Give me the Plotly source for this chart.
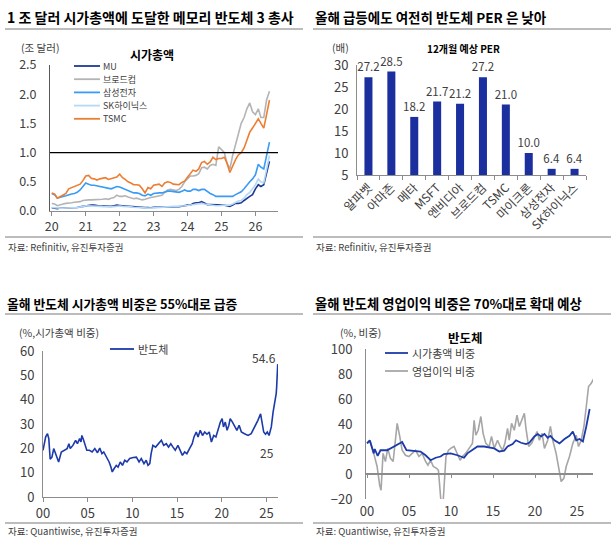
import plotly.graph_objects as go
import pandas as pd

W, H = 615, 543
FONT = "Noto Sans CJK KR"
TXT = "#404040"
AX = "#8c8c8c"

# ---------------- Panel 1 : market cap (trillion USD), monthly 2020-01 .. 2026-06
months = pd.date_range("2020-01-01", "2026-06-01", freq="MS")
mu = [0.055, 0.05, 0.04, 0.05, 0.05, 0.055, 0.06, 0.06, 0.055, 0.06, 0.07, 0.08,
      0.09, 0.10, 0.10, 0.10, 0.09, 0.085, 0.085, 0.08, 0.08, 0.08, 0.09, 0.10,
      0.095, 0.09, 0.085, 0.08, 0.075, 0.065, 0.065, 0.065, 0.057, 0.057, 0.06, 0.055,
      0.065, 0.065, 0.065, 0.07, 0.07, 0.075, 0.075, 0.07, 0.075, 0.075, 0.08, 0.095,
      0.10, 0.10, 0.13, 0.14, 0.14, 0.16, 0.13, 0.11, 0.11, 0.11, 0.11, 0.10,
      0.11, 0.10, 0.09, 0.08, 0.10, 0.13, 0.13, 0.14, 0.18, 0.22, 0.25, 0.28,
      0.38, 0.45, 0.42, 0.45, 0.65, 0.85]
broadcom = [0.13, 0.12, 0.09, 0.11, 0.12, 0.13, 0.13, 0.14, 0.15, 0.15, 0.16, 0.18,
            0.19, 0.19, 0.19, 0.19, 0.19, 0.20, 0.20, 0.21, 0.20, 0.22, 0.23, 0.27,
            0.25, 0.25, 0.26, 0.24, 0.23, 0.21, 0.22, 0.21, 0.19, 0.20, 0.22, 0.23,
            0.24, 0.25, 0.26, 0.27, 0.32, 0.36, 0.37, 0.36, 0.35, 0.37, 0.42, 0.50,
            0.55, 0.60, 0.60, 0.61, 0.64, 0.74, 0.75, 0.72, 0.78, 0.80, 0.78, 1.10,
            1.05, 1.00, 0.82, 0.72, 0.95, 1.15, 1.35, 1.50, 1.60, 1.75, 1.85, 1.70,
            1.65, 1.75, 1.60, 1.60, 1.90, 2.05]
samsung = [0.30, 0.28, 0.22, 0.24, 0.25, 0.26, 0.28, 0.29, 0.30, 0.32, 0.36, 0.42,
           0.48, 0.46, 0.44, 0.44, 0.43, 0.43, 0.42, 0.40, 0.39, 0.38, 0.40, 0.42,
           0.41, 0.39, 0.37, 0.35, 0.34, 0.31, 0.31, 0.30, 0.27, 0.26, 0.29, 0.27,
           0.30, 0.31, 0.31, 0.31, 0.33, 0.34, 0.34, 0.33, 0.33, 0.32, 0.34, 0.36,
           0.34, 0.34, 0.37, 0.37, 0.35, 0.37, 0.37, 0.33, 0.30, 0.28, 0.25, 0.25,
           0.25, 0.25, 0.25, 0.24, 0.25, 0.28, 0.30, 0.33, 0.38, 0.45, 0.50, 0.55,
           0.62, 0.80, 0.75, 0.72, 0.95, 1.18]
hynix = [0.06, 0.055, 0.045, 0.05, 0.05, 0.055, 0.055, 0.055, 0.055, 0.06, 0.065, 0.075,
         0.09, 0.09, 0.09, 0.085, 0.08, 0.08, 0.075, 0.07, 0.07, 0.07, 0.075, 0.085,
         0.085, 0.08, 0.08, 0.075, 0.07, 0.065, 0.06, 0.06, 0.05, 0.05, 0.05, 0.05,
         0.055, 0.06, 0.06, 0.06, 0.07, 0.075, 0.08, 0.08, 0.08, 0.08, 0.085, 0.09,
         0.095, 0.10, 0.11, 0.12, 0.12, 0.13, 0.12, 0.11, 0.10, 0.10, 0.09, 0.09,
         0.10, 0.10, 0.10, 0.10, 0.12, 0.15, 0.17, 0.18, 0.22, 0.28, 0.32, 0.38,
         0.45, 0.55, 0.50, 0.48, 0.70, 0.95]
tsmc = [0.31, 0.29, 0.22, 0.25, 0.27, 0.30, 0.38, 0.40, 0.41, 0.43, 0.46, 0.52,
        0.60, 0.61, 0.56, 0.55, 0.53, 0.55, 0.56, 0.57, 0.54, 0.55, 0.57, 0.58,
        0.63, 0.57, 0.54, 0.50, 0.48, 0.45, 0.45, 0.44, 0.38, 0.31, 0.40, 0.38,
        0.44, 0.45, 0.46, 0.42, 0.48, 0.50, 0.49, 0.46, 0.45, 0.45, 0.49, 0.51,
        0.58, 0.65, 0.70, 0.68, 0.72, 0.83, 0.85, 0.80, 0.84, 0.92, 0.88, 0.90,
        0.90, 0.92, 0.82, 0.66, 0.78, 0.88, 0.96, 1.00, 1.08, 1.20, 1.35, 1.42,
        1.50, 1.58, 1.50, 1.42, 1.65, 1.90]
p1_names = ["MU", "브로드컴", "삼성전자", "SK하이닉스", "TSMC"]
p1_colors = ["#1f3a93", "#b4b4b4", "#3a9bf5", "#b3d9f7", "#ed7d31"]
p1_years = ["20", "21", "22", "23", "24", "25", "26"]
threshold = 1.0

# ---------------- Panel 2 : 12M forward PER
per_cats = ["알파벳", "아마존", "메타", "MSFT", "엔비디아", "브로드컴", "TSMC", "마이크론", "삼성전자", "SK하이닉스"]
per_vals = [27.2, 28.5, 18.2, 21.7, 21.2, 27.2, 21.0, 10.0, 6.4, 6.4]

# ---------------- Panel 3 : semiconductor share of market cap (%)
p3_x = [2000.0, 2000.3, 2000.5, 2000.65, 2000.8, 2001.0, 2001.2, 2001.5, 2001.75, 2002.05,
        2002.4, 2002.7, 2002.9, 2003.05, 2003.35, 2003.65, 2003.85, 2004.1, 2004.25, 2004.35,
        2004.55, 2004.7, 2004.9, 2005.2, 2005.5, 2005.8, 2006.1, 2006.35, 2006.6, 2006.8,
        2007.1, 2007.4, 2007.6, 2007.75, 2007.95, 2008.2, 2008.4, 2008.65, 2008.9, 2009.15,
        2009.4, 2009.7, 2010.1, 2010.45, 2010.75, 2011.0, 2011.3, 2011.55, 2011.75, 2011.95,
        2012.1, 2012.3, 2012.6, 2012.9, 2013.25, 2013.5, 2013.8, 2014.05, 2014.3, 2014.55,
        2014.8, 2015.1, 2015.35, 2015.6, 2015.85, 2016.1, 2016.4, 2016.7, 2016.9, 2017.15,
        2017.35, 2017.6, 2017.85, 2018.1, 2018.35, 2018.6, 2018.85, 2019.1, 2019.35, 2019.6,
        2019.85, 2020.05, 2020.2, 2020.4, 2020.6, 2020.8, 2020.95, 2021.2, 2021.45, 2021.7,
        2021.95, 2022.2, 2022.55, 2022.95, 2023.3, 2023.6, 2023.8, 2024.05, 2024.35, 2024.5,
        2024.7, 2024.9, 2025.1, 2025.3, 2025.55, 2025.75, 2025.95, 2026.1, 2026.15, 2026.27]
p3_y = [19.2, 24.7, 26.0, 24.0, 15.5, 16.4, 19.9, 17.0, 14.4, 18.5,
        19.2, 19.9, 21.9, 19.9, 21.2, 23.3, 21.9, 24.0, 22.6, 25.3,
        23.3, 21.2, 19.2, 19.2, 18.5, 19.9, 18.2, 20.1, 17.8, 18.5,
        16.4, 14.4, 12.3, 10.3, 11.6, 13.0, 12.3, 14.4, 13.0, 15.1,
        14.4, 15.8, 16.2, 16.4, 14.4, 15.8, 13.7, 15.1, 13.0, 13.7,
        17.8, 21.2, 20.5, 21.9, 23.3, 21.2, 21.9, 20.5, 21.9, 20.5,
        19.2, 21.2, 19.2, 17.1, 18.5, 17.8, 19.9, 21.9, 24.7, 26.7,
        24.7, 27.4, 25.3, 26.7, 25.8, 26.7, 22.6, 25.3, 24.7, 28.1,
        30.8, 32.2, 28.8, 30.8, 27.4, 29.5, 32.2, 30.8, 28.8, 27.4,
        29.5, 26.7, 26.0, 25.3, 26.0, 28.1, 30.1, 31.5, 34.2, 30.1,
        26.7, 25.8, 26.7, 25.3, 28.8, 34.9, 38.4, 42.5, 45.2, 54.6]
p3_ticks = [2000, 2005, 2010, 2015, 2020, 2025]
p3_ticktext = ["00", "05", "10", "15", "20", "25"]

# ---------------- Panel 4 : market-cap share vs operating-profit share (%)
p4_cap_x = [2000.0, 2000.32, 2000.8, 2000.92, 2001.27, 2001.6, 2002.4, 2003.19, 2003.9, 2004.18,
            2004.7, 2005.58, 2006.37, 2006.97, 2007.57, 2008.17, 2008.76, 2009.16, 2009.96, 2010.76,
            2011.55, 2011.95, 2012.55, 2013.15, 2013.94, 2014.54, 2015.14, 2015.74, 2016.33, 2016.73,
            2017.33, 2017.73, 2018.33, 2018.92, 2019.32, 2019.92, 2020.32, 2020.72, 2021.12, 2021.51,
            2021.83, 2022.31, 2022.91, 2023.51, 2024.1, 2024.5, 2024.9, 2025.3, 2025.7, 2026.1, 2026.5]
p4_cap_y = [24.5, 27.0, 16.5, 20.0, 14.5, 19.0, 19.0, 22.0, 24.5, 25.6,
            19.0, 18.7, 18.0, 15.0, 11.0, 13.0, 14.0, 16.0, 16.5, 15.0,
            13.0, 16.5, 19.0, 22.0, 22.0, 21.0, 20.5, 18.0, 18.7, 22.0,
            24.0, 27.0, 25.0, 24.0, 25.0, 30.0, 32.0, 30.0, 32.0, 29.0,
            30.5, 27.0, 24.5, 28.0, 30.5, 34.0, 27.0, 28.0, 26.0, 38.0, 52.0]
p4_op_x = [2000.0, 2000.4, 2000.8, 2001.2, 2001.51, 2001.67, 2001.91, 2002.19, 2002.47, 2002.79,
           2003.11, 2003.39, 2003.59, 2003.9, 2004.18, 2004.58, 2004.98, 2005.38, 2005.78, 2006.18,
           2006.57, 2006.97, 2007.25, 2007.57, 2007.89, 2008.29, 2008.5, 2008.95, 2009.4, 2009.7,
           2009.96, 2010.36, 2010.76, 2011.08, 2011.35, 2011.75, 2012.15, 2012.55, 2012.75, 2012.95,
           2013.23, 2013.55, 2013.82, 2014.14, 2014.54, 2014.82, 2015.14, 2015.54, 2015.86, 2016.14,
           2016.41, 2016.73, 2016.93, 2017.21, 2017.53, 2017.85, 2018.13, 2018.45, 2018.73, 2018.92,
           2019.24, 2019.6, 2019.92, 2020.24, 2020.52, 2020.84, 2021.12, 2021.51, 2021.83, 2022.11,
           2022.51, 2022.79, 2023.11, 2023.43, 2023.71, 2024.1, 2024.5, 2024.9, 2025.18, 2025.5,
           2025.82, 2026.1, 2026.37, 2026.69, 2027.0]
p4_op_y = [24.5, 26.0, 16.5, 6.0, -9.0, -13.0, 16.5, 10.0, 20.5, 12.5,
           10.0, 30.0, 40.5, 30.0, 19.0, 15.0, 14.0, 16.5, 19.0, 14.0,
           16.5, 10.0, 7.0, 11.0, 6.0, 4.5, 3.0, -34.0, 14.0, 19.0,
           20.5, 22.0, 16.5, 11.0, 14.0, 16.5, 20.5, 24.5, 43.0, 31.0,
           35.0, 46.0, 32.5, 24.5, 22.0, 30.0, 20.5, 27.0, 22.0, 19.0,
           24.5, 36.5, 27.0, 40.5, 35.0, 47.0, 38.0, 43.0, 48.5, 36.5,
           22.0, 24.5, 30.0, 34.0, 27.0, 32.5, 20.5, 27.0, 38.0, 27.0,
           16.5, 6.0, -6.0, -3.5, 6.0, 14.0, 24.5, 31.0, 22.0, 27.0,
           38.0, 54.0, 70.0, 72.5, 76.5]
p4_ticks = [2000, 2005, 2010, 2015, 2020, 2025]
p4_ticktext = ["00", "05", "10", "15", "20", "25"]


def px(x):
    return x / W


def py(y):
    return 1 - y / H


fig = go.Figure()

# Panel 1 traces
for series, name, color in zip([mu, broadcom, samsung, hynix, tsmc], p1_names, p1_colors):
    fig.add_trace(go.Scatter(x=months, y=series, mode="lines", name=name,
                             line=dict(color=color, width=1.6), xaxis="x", yaxis="y",
                             showlegend=False))

# Panel 2 bars
fig.add_trace(go.Bar(x=per_cats, y=per_vals, marker_color="#1b2f9e", marker_line_width=0,
                     xaxis="x2", yaxis="y2",
                     text=[f"{v:.1f}" for v in per_vals], textposition="outside",
                     constraintext="none",
                     textfont=dict(family=FONT, size=11.5, color=TXT), cliponaxis=False,
                     showlegend=False))

# Panel 3 line
fig.add_trace(go.Scatter(x=p3_x, y=p3_y, mode="lines", line=dict(color="#1c3aa9", width=1.6),
                         xaxis="x3", yaxis="y3", showlegend=False))

# Panel 4 lines
fig.add_trace(go.Scatter(x=p4_op_x, y=p4_op_y, mode="lines", line=dict(color="#a6a6a6", width=1.6),
                         xaxis="x4", yaxis="y4", showlegend=False))
fig.add_trace(go.Scatter(x=p4_cap_x, y=p4_cap_y, mode="lines", line=dict(color="#1c3aa9", width=1.8),
                         xaxis="x4", yaxis="y4", showlegend=False))
# empty trace to host the zero-line x axis of panel 4
fig.add_trace(go.Scatter(x=[], y=[], xaxis="x5", yaxis="y4", showlegend=False, hoverinfo="skip"))

tick_font = dict(family=FONT, size=13, color=TXT)

fig.update_layout(
    template="none",
    width=W, height=H, autosize=False,
    margin=dict(l=0, r=0, t=0, b=0, pad=0),
    paper_bgcolor="white", plot_bgcolor="white",
    font=dict(family=FONT, color=TXT),
    bargap=0.65,
    xaxis=dict(domain=[px(50), px(278)], anchor="y", type="date", automargin=False,
               range=["2019-12-13", "2026-09-01"],
               tickvals=[f"20{y}-01-01" for y in p1_years], ticktext=p1_years,
               showline=True, linecolor=AX, ticks="outside", ticklen=4, tickcolor=AX,
               showgrid=False, zeroline=False, tickfont=dict(family=FONT, size=12.5, color=TXT)),
    yaxis=dict(domain=[py(211), py(65)], anchor="x", range=[0, 2.5], automargin=False,
               tickvals=[0, 0.5, 1.0, 1.5, 2.0, 2.5], tickformat=".1f",
               showline=True, linecolor="#595959", ticks="", ticklabelstandoff=10,
               showgrid=False, zeroline=False, tickfont=dict(family=FONT, size=12.5, color=TXT)),
    xaxis2=dict(domain=[px(357), px(586)], anchor="y2", type="category", tickangle=-45,
                automargin=False,
                showline=True, linecolor=AX, ticks="outside", ticklen=4, tickcolor=AX,
                tickson="boundaries", showgrid=False, zeroline=False,
                tickfont=dict(family=FONT, size=12, color=TXT)),
    yaxis2=dict(domain=[py(175), py(65)], anchor="x2", range=[5, 30], dtick=5, automargin=False,
                showline=True, linecolor=AX, ticks="", ticklabelstandoff=5,
                showgrid=False, zeroline=False, tickfont=tick_font),
    xaxis3=dict(domain=[px(43), px(278)], anchor="y3", range=[2000, 2026.3], automargin=False,
                tickvals=p3_ticks, ticktext=p3_ticktext,
                showline=True, linecolor=AX, ticks="outside", ticklen=4, tickcolor=AX,
                showgrid=False, zeroline=False, tickfont=tick_font),
    yaxis3=dict(domain=[py(497), py(351)], anchor="x3", range=[0, 60], dtick=10, automargin=False,
                showline=True, linecolor=AX, ticks="", ticklabelstandoff=5,
                showgrid=False, zeroline=False, tickfont=tick_font),
    xaxis4=dict(domain=[px(366), px(593)], anchor="y4", range=[1999.88, 2026.9], automargin=False,
                tickvals=p4_ticks, ticktext=p4_ticktext,
                showline=False, ticks="", ticklabelstandoff=3,
                showgrid=False, zeroline=False, tickfont=tick_font),
    xaxis5=dict(overlaying="x4", anchor="free", position=py(474), range=[1999.88, 2026.9],
                tickvals=p4_ticks, showticklabels=False, automargin=False,
                showline=True, linecolor=AX, linewidth=1.5, ticks="outside", ticklen=3, tickcolor=AX,
                showgrid=False, zeroline=False),
    yaxis4=dict(domain=[py(499), py(349)], anchor="x4", range=[-20, 100], dtick=20, automargin=False,
                showline=True, linecolor=AX, ticks="", ticklabelstandoff=10,
                showgrid=False, zeroline=False, tickfont=tick_font),
)

# reference line at 1 trillion
fig.add_shape(type="line", xref="x domain", yref="y", x0=0, x1=1, y0=threshold, y1=threshold,
              line=dict(color="black", width=1.3))

shapes_lines = [
    (5, 303, 29), (313, 611, 29), (5, 303, 237), (313, 611, 237),
    (5, 303, 314), (313, 611, 314), (5, 303, 523), (313, 611, 523),
]
for x0, x1, y in shapes_lines:
    fig.add_shape(type="line", xref="paper", yref="paper", x0=px(x0), x1=px(x1), y0=py(y), y1=py(y),
                  line=dict(color="#a6a6a6", width=1.5))


def ann(text, x, y, size, color=TXT, xanchor="left", yanchor="middle"):
    fig.add_annotation(text=text, x=px(x), y=py(y), xref="paper", yref="paper",
                       xanchor=xanchor, yanchor=yanchor, showarrow=False, align="left",
                       borderpad=0,
                       font=dict(family=FONT, size=size, color=color))


# titles
ann("<b>1 조 달러 시가총액에 도달한 메모리 반도체 3 총사</b>", 6, 17, 14, color="black")
ann("<b>올해 급등에도 여전히 반도체 PER 은 낮아</b>", 314, 17, 13.5, color="black")
ann("<b>올해 반도체 시가총액 비중은 55%대로 급증</b>", 6, 303, 12.8, color="black")
ann("<b>올해 반도체 영업이익 비중은 70%대로 확대 예상</b>", 314, 303, 13.3, color="black")

# sources
ann("자료: Refinitiv, 유진투자증권", 7, 247, 9.5)
ann("자료: Refinitiv, 유진투자증권", 315, 247, 9.5)
ann("자료: Quantiwise, 유진투자증권", 7, 531, 9.5)
ann("자료: Quantiwise, 유진투자증권", 315, 531, 9.5)

# panel 1 extras
ann("(조 달러)", 20, 47, 10.5)
ann("<b>시가총액</b>", 152, 55, 12, color="black", xanchor="center")
LEG_SIZE = 9
LEG_STEP = 13.2
for i, (name, color) in enumerate(zip(p1_names, p1_colors)):
    yy = 66 + i * LEG_STEP
    fig.add_shape(type="line", xref="paper", yref="paper", x0=px(74), x1=px(100), y0=py(yy), y1=py(yy),
                  line=dict(color=color, width=1.8))
    ann(name, 102, yy, LEG_SIZE)

# panel 2 extras
ann("(배)", 331, 47, 10.5)
ann("<b>12개월 예상 PER</b>", 463, 48, 10, color="black", xanchor="center")

# panel 3 extras
ann("(%,시가총액 비중)", 18, 332, 10.5)
fig.add_shape(type="line", xref="paper", yref="paper", x0=px(110), x1=px(134), y0=py(349), y1=py(349),
              line=dict(color="#1c3aa9", width=1.8))
ann("반도체", 137, 349, 11)
fig.add_annotation(text="54.6", x=p3_x[-1], y=p3_y[-1], xref="x3", yref="y3", xanchor="right",
                   yanchor="bottom", yshift=-4, showarrow=False,
                   font=dict(family=FONT, size=12, color=TXT))
fig.add_annotation(text="25", x=2025.05, y=25, xref="x3", yref="y3", xanchor="center",
                   yanchor="top", yshift=-6, showarrow=False,
                   font=dict(family=FONT, size=12, color=TXT))

# panel 4 extras
ann("(%, 비중)", 339, 332, 10.5)
ann("<b>반도체</b>", 465, 337, 12.5, color="black", xanchor="center")
fig.add_shape(type="line", xref="paper", yref="paper", x0=px(385), x1=px(408), y0=py(353), y1=py(353),
              line=dict(color="#1c3aa9", width=1.8))
ann("시가총액 비중", 411, 353, 11)
fig.add_shape(type="line", xref="paper", yref="paper", x0=px(385), x1=px(408), y0=py(371), y1=py(371),
              line=dict(color="#a6a6a6", width=1.8))
ann("영업이익 비중", 411, 371, 11)

fig.write_html("out.html")
